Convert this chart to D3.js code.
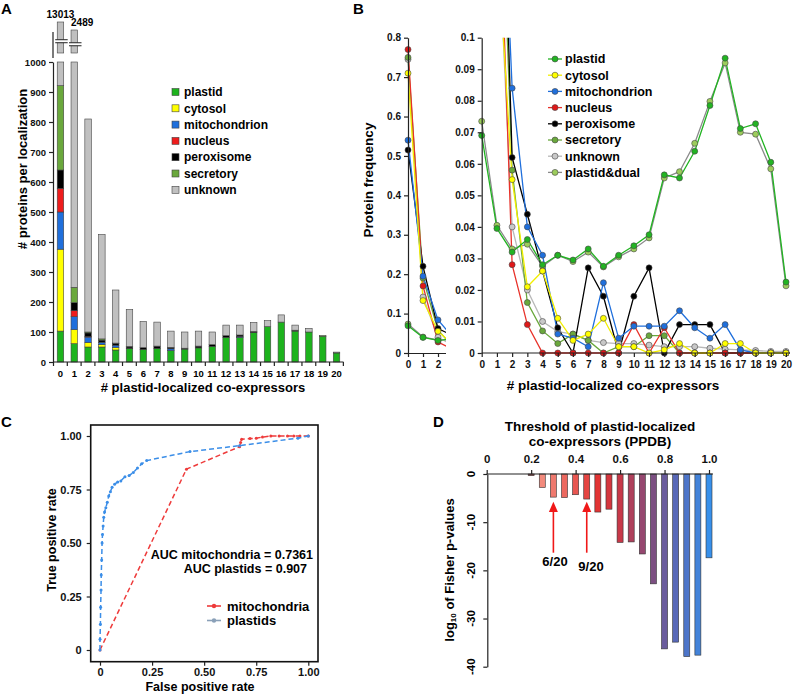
<!DOCTYPE html>
<html>
<head>
<meta charset="utf-8">
<script src="https://cdn.jsdelivr.net/npm/d3@7"></script>
<style>
body { margin: 0; background: #fff; }
svg { display: block; font-family: "Liberation Sans", Arial, sans-serif; font-weight: bold; }
</style>
</head>
<body>
<script>
// ---------- data ----------
var coexpressors = [0,1,2,3,4,5,6,7,8,9,10,11,12,13,14,15,16,17,18,19,20];
var localizations = ["plastid","cytosol","mitochondrion","nucleus","peroxisome","secretory","unknown"];

// panel A: # proteins per localization, per bin
var plastidA    = [103, 61, 50, 50, 40, 45, 42, 45, 38, 43, 47, 52, 82, 82, 98, 118, 133, 103, 100, 85, 30];
var cytosolA    = [273, 47, 15, 8, 8, 0, 0, 0, 0, 0, 0, 0, 0, 0, 0, 0, 0, 0, 0, 0, 0];
var mitoA       = [124, 43, 18, 8, 8, 0, 0, 0, 6, 0, 0, 0, 0, 3, 0, 0, 0, 0, 0, 0, 0];
var nucleusA    = [79, 20, 2, 0, 0, 0, 0, 0, 0, 0, 0, 0, 0, 0, 0, 0, 0, 0, 0, 0, 0];
var peroxisomeA = [61, 27, 12, 7, 5, 5, 6, 8, 5, 3, 6, 6, 6, 5, 4, 0, 0, 3, 0, 0, 0];
var secretoryA  = [281, 51, 3, 4, 2, 2, 0, 0, 0, 0, 0, 0, 0, 0, 0, 0, 0, 0, 0, 3, 0];
var unknownA    = [12372, 2240, 710, 348, 177, 123, 87, 80, 54, 54, 50, 42, 35, 33, 30, 20, 24, 17, 12, 0, 3];
var brokenTotals = [13013, 2489];
var ticksA = [0,100,200,300,400,500,600,700,800,900,1000];

// panel B: protein frequency per bin
var plastidB    = [0.069, 0.0395, 0.032, 0.036, 0.028, 0.031, 0.0295, 0.033, 0.0275, 0.031, 0.034, 0.0375, 0.0565, 0.0555, 0.064, 0.0785, 0.0935, 0.0712, 0.0727, 0.0605, 0.0225];
var cytosolB    = [0.71, 0.133, 0.055, 0.021, 0.026, 0.011, 0.004, 0.006, 0.011, 0.002, 0.002, 0, 0.001, 0.003, 0, 0, 0.003, 0.003, 0, 0, 0];
var mitoB       = [0.54, 0.195, 0.084, 0.040, 0.031, 0.006, 0.0047, 0.002, 0.0223, 0.0047, 0.0085, 0.0085, 0.0085, 0.0134, 0.008, 0.0047, 0.009, 0.001, 0, 0, 0];
var nucleusB    = [0.77, 0.17, 0.028, 0.009, 0, 0, 0, 0, 0, 0, 0.009, 0, 0.008, 0, 0, 0, 0, 0, 0, 0, 0];
var peroxisomeB = [0.515, 0.22, 0.062, 0.044, 0.026, 0.008, 0, 0.027, 0.018, 0, 0.018, 0.027, 0, 0.009, 0.009, 0.009, 0, 0, 0, 0, 0];
var secretoryB  = [0.75, 0.19, 0.058, 0.016, 0.007, 0.003, 0.006, 0.004, 0, 0.002, 0.002, 0.0055, 0.0055, 0, 0, 0, 0, 0, 0, 0, 0];
var unknownB    = [0.745, 0.142, 0.040, 0.020, 0.010, 0.0068, 0.006, 0.004, 0.0033, 0.003, 0.003, 0.0025, 0.002, 0.002, 0.002, 0.0015, 0.0012, 0.001, 0.0008, 0.0005, 0.0005];
var dualB       = [0.0735, 0.0405, 0.033, 0.0345, 0.0275, 0.031, 0.029, 0.032, 0.0273, 0.0305, 0.033, 0.0365, 0.0555, 0.0575, 0.0665, 0.0798, 0.092, 0.0700, 0.0694, 0.0584, 0.0213];
var ticksBLeft  = [0,0.1,0.2,0.3,0.4,0.5,0.6,0.7,0.8];
var ticksBRight = [0,0.01,0.02,0.03,0.04,0.05,0.06,0.07,0.08,0.09,0.1];

// panel C: ROC curves
var fprMito = [0, 0.415, 0.67, 0.675, 0.68, 0.72, 0.75, 0.78, 0.82, 0.86, 0.9, 0.93, 0.96, 1.0];
var tprMito = [0, 0.845, 0.95, 0.97, 0.985, 0.988, 0.99, 0.995, 1, 1, 1, 1, 1, 1];
var fprPlastid = [0, 0, 0.002, 0.003, 0.005, 0.006, 0.008, 0.01, 0.012, 0.015, 0.018, 0.022, 0.028, 0.035, 0.042, 0.05, 0.058, 0.07, 0.085, 0.1, 0.12, 0.14, 0.16, 0.18, 0.2, 0.224, 0.432, 0.67, 0.95, 1.0];
var tprPlastid = [0, 0.05, 0.12, 0.2, 0.28, 0.35, 0.42, 0.5, 0.54, 0.58, 0.62, 0.645, 0.665, 0.69, 0.72, 0.74, 0.76, 0.775, 0.785, 0.79, 0.81, 0.815, 0.83, 0.85, 0.87, 0.885, 0.927, 0.955, 0.99, 1.0];
var ticksC = [0, 0.25, 0.5, 0.75, 1];
var aucMito = "0.7361", aucPlastid = "0.907";

// panel D: Fisher p-values per threshold
var thresholdsD = [0.2,0.25,0.3,0.35,0.4,0.45,0.5,0.55,0.6,0.65,0.7,0.75,0.8,0.85,0.9,0.95,1.0];
var log10pD = [-0.35, -2.8, -4.8, -4.9, -4.3, -5.2, -7.9, -7.3, -14.2, -14.1, -16.6, -22.8, -36.3, -34.9, -37.9, -37.6, -17.4];
var ticksDx = [0, 0.2, 0.4, 0.6, 0.8, 1.0];
var ticksDy = [0, -10, -20, -30, -40];
var arrowsD = [0.3, 0.45];
var arrowLabelsD = ["6/20", "9/20"];

// ---------- setup ----------
var svg = d3.select("body").append("svg")
    .attr("width", 793)
    .attr("height", 695);

var colA = {plastid:"#1db31d", cytosol:"#ffff00", mitochondrion:"#1f6fdc", nucleus:"#ee1c1c",
            peroxisome:"#000000", secretory:"#6aa83c", unknown:"#c0c0c0"};

function styleAxis(g, size) {
    g.selectAll("path, line").attr("stroke", "#222").attr("stroke-width", 1.2);
    g.selectAll("text").attr("fill", "#111").attr("font-size", size)
        .attr("font-family", "Liberation Sans, Arial, sans-serif").attr("font-weight", "bold");
}

function panelLetter(t, x, y) {
    svg.append("text").attr("x", x).attr("y", y).attr("font-size", 15).text(t);
}

window.onload = function() {
    setA();
    setB();
    setC();
    setD();
};

// ---------- panel A ----------
function setA() {
    var g = svg.append("g");
    var x = d3.scaleBand().domain(coexpressors).range([53.5, 343.5]).paddingInner(0.53).paddingOuter(0.27);
    var y = d3.scaleLinear().domain([0, 1000]).range([362, 62]);
    var yStub = d3.scaleLinear().domain([1000].concat(brokenTotals.slice().reverse())).range([53, 30, 22]);
    var seriesA = {plastid:plastidA, cytosol:cytosolA, mitochondrion:mitoA, nucleus:nucleusA,
                   peroxisome:peroxisomeA, secretory:secretoryA, unknown:unknownA};

    var rows = coexpressors.map(function(c, i) {
        var r = {bin: c};
        localizations.forEach(function(k) { r[k] = seriesA[k][i]; });
        return r;
    });
    var stack = d3.stack().keys(localizations)(rows);

    g.selectAll(".layer")
        .data(stack)
        .enter()
        .append("g")
        .attr("fill", function(d) { return colA[d.key]; })
        .selectAll("rect")
        .data(function(d) { return d.filter(function(s) { return s[1] > s[0] && s[0] < 1000; }); })
        .enter()
        .append("rect")
        .attr("x", function(d) { return x(d.data.bin); })
        .attr("width", x.bandwidth())
        .attr("y", function(d) { return y(Math.min(d[1], 1000)); })
        .attr("height", function(d) { return y(d[0]) - y(Math.min(d[1], 1000)); })
        .attr("stroke", "#444")
        .attr("stroke-width", 0.6);

    // broken bars above the axis
    brokenTotals.forEach(function(t, i) {
        var bx = x(coexpressors[i]), bw = x.bandwidth(), top = yStub(t);
        g.append("rect").attr("x", bx).attr("y", top).attr("width", bw).attr("height", 53 - top)
            .attr("fill", colA.unknown).attr("stroke", "#444").attr("stroke-width", 0.6);
        var by = top + 0.62 * (53 - top);
        g.append("rect").attr("x", bx - 2).attr("y", by - 1.5).attr("width", bw + 6).attr("height", 3).attr("fill", "#fff");
        [by - 1.5, by + 1.5].forEach(function(ly) {
            g.append("line").attr("x1", bx - 2).attr("x2", bx + bw + 4).attr("y1", ly).attr("y2", ly)
                .attr("stroke", "#222").attr("stroke-width", 1);
        });
        g.append("text").attr("x", i === 0 ? bx + bw / 2 : bx).attr("y", top - 4)
            .attr("text-anchor", i === 0 ? "middle" : "start").attr("font-size", 10).text(t);
    });
    g.append("line").attr("x1", 53).attr("x2", 53).attr("y1", 32).attr("y2", 58).attr("stroke", "#222").attr("stroke-width", 1.2);

    var ay = g.append("g").attr("transform", "translate(53,0)")
        .call(d3.axisLeft(y).tickValues(ticksA).tickSize(4).tickSizeOuter(0).tickPadding(3)
        .tickFormat(d3.format("d")));
    styleAxis(ay, 9.5);

    // x axis: line, ticks between bars, labels under bars
    var step = x.step();
    g.append("line").attr("x1", 53).attr("x2", 343.5).attr("y1", 362).attr("y2", 362).attr("stroke", "#222").attr("stroke-width", 1.2);
    g.selectAll(".xtickA").data(coexpressors.concat([21])).enter().append("line")
        .attr("x1", function(d) { return 53.5 + d * step; })
        .attr("x2", function(d) { return 53.5 + d * step; })
        .attr("y1", 362).attr("y2", 366).attr("stroke", "#222").attr("stroke-width", 1.2);
    g.selectAll(".xlabA").data(coexpressors).enter().append("text")
        .attr("x", function(d) { return x(d) + x.bandwidth() / 2; })
        .attr("y", 377).attr("text-anchor", "middle").attr("font-size", 9.5).text(function(d) { return d; });

    g.append("text").attr("x", 203).attr("y", 392).attr("text-anchor", "middle").attr("font-size", 13)
        .text("# plastid-localized co-expressors");
    g.append("text").attr("transform", "translate(22,169) rotate(-90)").attr("dy", "0.35em")
        .attr("text-anchor", "middle").attr("font-size", 13).text("# proteins per localization");

    // legend
    var lg = g.selectAll(".legA").data(localizations).enter().append("g")
        .attr("transform", function(d, i) { return "translate(172," + (92 + i * 16.3) + ")"; });
    lg.append("rect").attr("x", 0).attr("y", -3.5).attr("width", 7).attr("height", 7)
        .attr("fill", function(d) { return colA[d]; }).attr("stroke", "#444").attr("stroke-width", 0.6);
    lg.append("text").attr("x", 12).attr("dy", "0.35em").attr("font-size", 12).text(function(d) { return d; });

    panelLetter("A", 1, 14);
}

// ---------- panel B ----------
function setB() {
    var g = svg.append("g");
    var seriesB = [
        {name:"plastid", v:plastidB, line:"#22b422", fill:"#22b422"},
        {name:"cytosol", v:cytosolB, line:"#f2ee00", fill:"#ffff00"},
        {name:"mitochondrion", v:mitoB, line:"#1f6fdc", fill:"#1f6fdc"},
        {name:"nucleus", v:nucleusB, line:"#e8322a", fill:"#e01818"},
        {name:"peroxisome", v:peroxisomeB, line:"#000", fill:"#000"},
        {name:"secretory", v:secretoryB, line:"#6aa83c", fill:"#6aa83c"},
        {name:"unknown", v:unknownB, line:"#b8b8b8", fill:"#c8c8c8"},
        {name:"plastid&dual", v:dualB, line:"#8a8a8a", fill:"#9ccc5c"}
    ];

    var xL = d3.scaleLinear().domain([0, 2.5]).range([408, 445.5]);
    var yL = d3.scaleLinear().domain([0, 0.8]).range([353, 37.7]);
    var xR = d3.scaleLinear().domain([0, 20]).range([481.7, 786]);
    var yR = d3.scaleLinear().domain([0, 0.1]).range([353, 37.7]);

    var defs = svg.append("defs");
    defs.append("clipPath").attr("id", "clipBL").append("rect").attr("x", 403).attr("y", 30).attr("width", 43).attr("height", 328);
    defs.append("clipPath").attr("id", "clipBR").append("rect").attr("x", 477).attr("y", 37.7).attr("width", 316).attr("height", 321);

    function drawPanel(xs, ys, clip) {
        var pg = g.append("g").attr("clip-path", "url(#" + clip + ")");
        var line = d3.line().x(function(d, i) { return xs(coexpressors[i]); }).y(function(d) { return ys(d); });
        seriesB.slice().reverse().forEach(function(s) {
            pg.append("path").datum(s.v).attr("d", line).attr("fill", "none")
                .attr("stroke", s.line).attr("stroke-width", 1.3);
        });
        seriesB.slice().reverse().forEach(function(s) {
            pg.selectAll(null).data(s.v).enter().append("circle")
                .attr("cx", function(d, i) { return xs(coexpressors[i]); })
                .attr("cy", function(d) { return ys(d); })
                .attr("r", 3).attr("fill", s.fill).attr("stroke", "#444").attr("stroke-width", 0.6);
        });
    }
    drawPanel(xL, yL, "clipBL");
    drawPanel(xR, yR, "clipBR");

    var ayL = g.append("g").attr("transform", "translate(408,0)")
        .call(d3.axisLeft(yL).tickValues(ticksBLeft).tickSize(4).tickSizeOuter(0)
        .tickFormat(function(d) { return d === 0 ? "0" : d.toFixed(1); }));
    styleAxis(ayL, 10);
    var axL = g.append("g").attr("transform", "translate(0,353)")
        .call(d3.axisBottom(xL).tickValues([0, 1, 2]).tickSize(4).tickSizeOuter(0).tickPadding(4)
        .tickFormat(d3.format("d")));
    styleAxis(axL, 10);

    var ayR = g.append("g").attr("transform", "translate(481.7,0)")
        .call(d3.axisLeft(yR).tickValues(ticksBRight).tickSize(4).tickSizeOuter(0)
        .tickFormat(function(d) { return d === 0 ? "0" : d === 0.1 ? "0.1" : d.toFixed(2); }));
    styleAxis(ayR, 10);
    var axR = g.append("g").attr("transform", "translate(0,353)")
        .call(d3.axisBottom(xR).tickValues(coexpressors).tickSize(4).tickSizeOuter(0).tickPadding(4)
        .tickFormat(d3.format("d")));
    axR.select(".domain").attr("d", "M481.7,0H790");
    styleAxis(axR, 10);

    g.append("text").attr("x", 613).attr("y", 390).attr("text-anchor", "middle").attr("font-size", 13.5)
        .text("# plastid-localized co-expressors");
    g.append("text").attr("transform", "translate(368,180) rotate(-90)").attr("dy", "0.35em")
        .attr("text-anchor", "middle").attr("font-size", 13.5).text("Protein frequency");

    var lg = g.selectAll(".legB").data(seriesB).enter().append("g")
        .attr("transform", function(d, i) { return "translate(548," + (59 + i * 16.2) + ")"; });
    lg.append("line").attr("x1", 0).attr("x2", 14).attr("stroke", function(d) { return d.line; }).attr("stroke-width", 1.3);
    lg.append("circle").attr("cx", 7).attr("r", 3).attr("fill", function(d) { return d.fill; })
        .attr("stroke", "#444").attr("stroke-width", 0.6);
    lg.append("text").attr("x", 17).attr("dy", "0.35em").attr("font-size", 12.5).text(function(d) { return d.name; });

    panelLetter("B", 353, 14);
}

// ---------- panel C ----------
function setC() {
    var g = svg.append("g");
    var x = d3.scaleLinear().domain([0, 1]).range([100, 308.3]);
    var y = d3.scaleLinear().domain([0, 1]).range([650, 436]);
    var fmt = function(d) { return d === 0 ? "0" : d.toFixed(2); };

    g.append("rect").attr("x", 90.7).attr("y", 425).attr("width", 227.3).attr("height", 236.7)
        .attr("fill", "none").attr("stroke", "#111").attr("stroke-width", 1.6);

    var ay = g.append("g").attr("transform", "translate(90.7,0)")
        .call(d3.axisLeft(y).tickValues(ticksC).tickSize(4).tickFormat(fmt).tickPadding(5));
    ay.select(".domain").remove();
    styleAxis(ay, 11);
    var ax = g.append("g").attr("transform", "translate(0,661.7)")
        .call(d3.axisBottom(x).tickValues(ticksC).tickSize(4).tickFormat(fmt).tickPadding(3));
    ax.select(".domain").remove();
    styleAxis(ax, 11);

    var curves = [
        {name:"mitochondria", fpr:fprMito, tpr:tprMito, color:"#ee3b3b", legend:"#ee3b3b"},
        {name:"plastids", fpr:fprPlastid, tpr:tprPlastid, color:"#3b8ee8", legend:"#8aa0b8"}
    ];
    var line = d3.line().x(function(d) { return x(d[0]); }).y(function(d) { return y(d[1]); });
    curves.forEach(function(c) {
        var pts = c.fpr.map(function(f, i) { return [f, c.tpr[i]]; });
        g.append("path").datum(pts).attr("d", line).attr("fill", "none")
            .attr("stroke", c.color).attr("stroke-width", 1.5).attr("stroke-dasharray", "5,3");
        g.selectAll(null).data(pts).enter().append("circle")
            .attr("cx", function(d) { return x(d[0]); }).attr("cy", function(d) { return y(d[1]); })
            .attr("r", 1.5).attr("fill", c.color);
    });

    g.append("text").attr("x", 313).attr("y", 559).attr("text-anchor", "end").attr("font-size", 12.5)
        .text("AUC mitochondria = " + aucMito);
    g.append("text").attr("x", 307).attr("y", 573).attr("text-anchor", "end").attr("font-size", 12.5)
        .text("AUC plastids = " + aucPlastid);

    var lg = g.selectAll(".legC").data(curves).enter().append("g")
        .attr("transform", function(d, i) { return "translate(207," + (606 + i * 14.5) + ")"; });
    lg.append("line").attr("x1", 0).attr("x2", 14).attr("stroke", function(d) { return d.legend; }).attr("stroke-width", 1.6);
    lg.append("circle").attr("cx", 7).attr("r", 2.2).attr("fill", function(d) { return d.legend; });
    lg.append("text").attr("x", 20).attr("dy", "0.35em").attr("font-size", 13).text(function(d) { return d.name; });

    g.append("text").attr("x", 200).attr("y", 691).attr("text-anchor", "middle").attr("font-size", 12.5)
        .text("False positive rate");
    g.append("text").attr("transform", "translate(52,540) rotate(-90)").attr("dy", "0.35em")
        .attr("text-anchor", "middle").attr("font-size", 12.5).text("True positive rate");

    panelLetter("C", 1, 427);
}

// ---------- panel D ----------
function setD() {
    var g = svg.append("g");
    var x = d3.scaleLinear().domain([0, 1]).range([486.7, 709]);
    var y = d3.scaleLinear().domain([-40, 0]).range([666.7, 474]);
    var color = d3.scaleLinear()
        .domain([0.2, 0.25, 0.5, 0.6, 0.75, 0.85, 1.0])
        .range(["#a05050", "#f28a7c", "#e23434", "#c83848", "#7c4f82", "#5868b8", "#3890ea"]);

    g.selectAll(".barD").data(thresholdsD).enter().append("rect")
        .attr("x", function(d) { return x(d) - 3; })
        .attr("width", 6)
        .attr("y", y(0))
        .attr("height", function(d, i) { return y(log10pD[i]) - y(0); })
        .attr("fill", function(d) { return color(d); })
        .attr("stroke", "#333").attr("stroke-width", 0.6);

    var ax = g.append("g").attr("transform", "translate(0,474)")
        .call(d3.axisTop(x).tickValues(ticksDx).tickSize(4).tickSizeOuter(0).tickPadding(7)
        .tickFormat(function(d) { return d === 0 ? "0" : d.toFixed(1); }));
    ax.select(".domain").attr("d", "M486.7,0H713");
    styleAxis(ax, 11.5);

    var ay = g.append("g").attr("transform", "translate(487.3,0)")
        .call(d3.axisLeft(y).tickValues(ticksDy).tickSize(4).tickSizeOuter(0).tickFormat(""));
    styleAxis(ay, 11.5);
    g.selectAll(".ylabD").data(ticksDy).enter().append("text")
        .attr("transform", function(d) { return "translate(471," + y(d) + ") rotate(-90)"; })
        .attr("dy", "0.35em").attr("text-anchor", "middle").attr("font-size", 11.5)
        .text(function(d) { return d; });

    g.append("text").attr("x", 600).attr("y", 431).attr("text-anchor", "middle").attr("font-size", 13.5)
        .text("Threshold of plastid-localized");
    g.append("text").attr("x", 600).attr("y", 446).attr("text-anchor", "middle").attr("font-size", 13.5)
        .text("co-expressors (PPDB)");

    var yl = g.append("text").attr("transform", "translate(449,570) rotate(-90)").attr("dy", "0.35em")
        .attr("text-anchor", "middle").attr("font-size", 13);
    yl.append("tspan").text("log");
    yl.append("tspan").attr("font-size", 8).attr("dy", "0.35em").text("10");
    yl.append("tspan").attr("dy", "-0.2em").text(" of Fisher p-values");

    arrowsD.forEach(function(t, i) {
        var ax0 = x(t);
        g.append("line").attr("x1", ax0).attr("x2", ax0).attr("y1", 552.7).attr("y2", 510)
            .attr("stroke", "#f01818").attr("stroke-width", 1.6);
        g.append("path").attr("d", "M" + ax0 + ",501.7L" + (ax0 - 4.5) + ",512L" + (ax0 + 4.5) + ",512Z").attr("fill", "#f01818");
        g.append("text").attr("x", i === 0 ? 555 : 591).attr("y", i === 0 ? 565.5 : 570.5)
            .attr("text-anchor", "middle").attr("font-size", 13).text(arrowLabelsD[i]);
    });

    panelLetter("D", 433, 427);
}
</script>
</body>
</html>
